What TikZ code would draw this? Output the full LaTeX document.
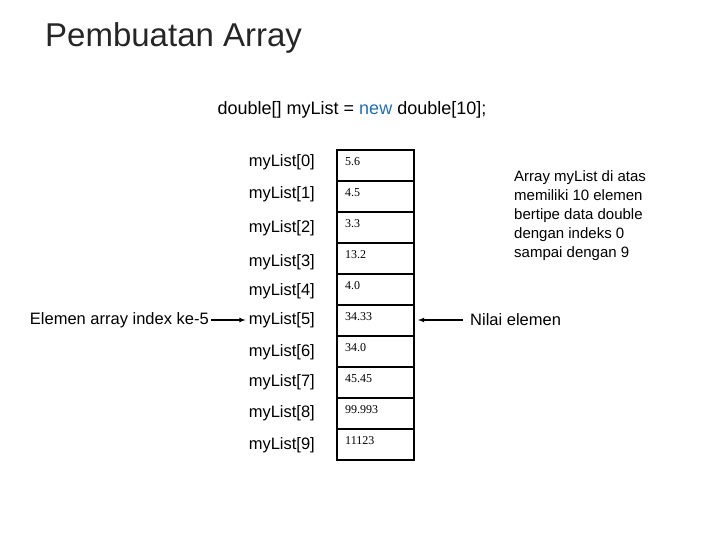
\documentclass[tikz,border=0pt]{standalone}
\usepackage{fontspec}
\setmainfont{Liberation Sans}
\newfontfamily\valfont{Liberation Serif}
\begin{document}
\begin{tikzpicture}[x=1pt,y=-1pt,
  lbl/.style={anchor=east,font=\fontsize{16.5}{18}\selectfont,inner sep=0pt},
  val/.style={anchor=west,font=\valfont\fontsize{12}{13}\selectfont,inner sep=0pt},
  cellbox/.style={draw,line width=1.6pt},
  note/.style={font=\fontsize{15}{19}\selectfont,inner sep=0pt},
  arr/.style={-latex,line width=1.1pt}]
\useasboundingbox (0,0) rectangle (720,540);
\node[anchor=west,font=\fontsize{33}{36}\selectfont,inner sep=0pt,text=black!85] (title) at (45,38) {Pembuatan Array};
\node[font=\fontsize{18}{20}\selectfont,inner sep=0pt] (code) at (352,110) {double[] myList = \textcolor[RGB]{30,110,190}{new} double[10];};
\foreach \a/\b/\v [count=\i from 0] in {150/181/5.6,181/212/4.5,212/243/3.3,243/274/13.2,274/305/4.0,305/336/34.33,336/367/34.0,367/398/45.45,398/429/99.993,429/460/11123}{
  \draw[cellbox] (337,\a) rectangle (414,\b);
  \node[val] (v\i) at (345,{\a+12}) {\v};
}
\foreach \y [count=\i from 0] in {162,194,228,262,291,320,352,382,413,445}{
  \node[lbl] (l\i) at (315,\y) {myList[\i]};
}
\node[anchor=east,font=\fontsize{16.5}{18}\selectfont,inner sep=0pt] (left) at (209,320) {Elemen array index ke-5};
\draw[arr] (left.east) ++(2,0) -- ([xshift=-3pt]l5.west);
\node[anchor=west,font=\fontsize{16.5}{18}\selectfont,inner sep=0pt] (nilai) at (470,320) {Nilai elemen};
\coordinate (cell5) at (418,320);
\draw[arr] (nilai.west) ++(-7,0) -- (cell5);
\node[note,anchor=north west,align=left] (desc) at (514,170) {Array myList di atas\\memiliki 10 elemen\\bertipe data double\\dengan indeks 0\\sampai dengan 9};
\end{tikzpicture}
\end{document}
